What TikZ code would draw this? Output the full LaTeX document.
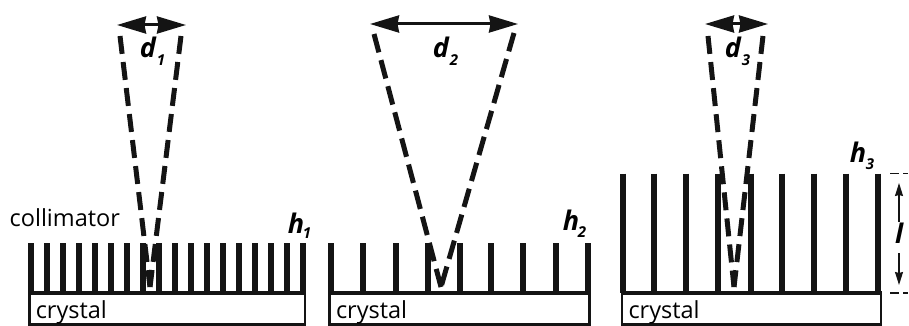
\documentclass[tikz,border=0pt]{standalone}
\usepackage{fontspec}
\setmainfont{Open Sans}
\usetikzlibrary{arrows.meta}
\tikzset{
  fin/.style={line width=6pt,line cap=butt,draw=black!92},
  base/.style={line width=4.5pt,draw=black!92},
  crystalbox/.style={draw=black!92,line width=2.5pt,anchor=north west,inner sep=0pt,outer sep=0pt,align=left,font=\fontsize{23.5}{23.5}\selectfont},
  cone/.style={line width=5pt,draw=black!92,dash pattern=on 18pt off 8.2pt},
  widecone/.style={cone,dash pattern=on 19pt off 8pt},
  dimarrow/.style={line width=3pt,draw=black!92,{Stealth[length=29pt,width=17pt,inset=1.5pt]}-{Stealth[length=29pt,width=17pt,inset=1.5pt]}},
  lenarrow/.style={line width=1.3pt,draw=black!92,-{Stealth[length=13pt,width=8pt,inset=1pt]}},
  tick/.style={line width=1.3pt,draw=black!92,dash pattern=on 9pt off 4pt},
  heading/.style={font=\fontsize{23.5}{23.5}\selectfont},
  symb/.style={font=\fontsize{27}{27}\selectfont\bfseries\itshape,inner sep=0pt},
  sub/.style={font=\fontsize{15}{15}\selectfont\bfseries\itshape,inner sep=0pt},
}
\newcommand{\crystaltext}{\hspace*{6.5pt}\raisebox{-9.5pt}[0pt][0pt]{crystal}}
\begin{document}
\begin{tikzpicture}[x=1pt,y=-1pt]
\useasboundingbox (0,0) rectangle (909,326);
% ---- panel 1
\foreach \i in {0,...,17} \draw[fin] ({30.7+16*\i},243) -- ({30.7+16*\i},293);
\node[crystalbox,minimum width=275.5pt,minimum height=31pt,text width=275.5pt] (c1) at (29.3,293.5) {\crystaltext};
\draw[base] (28,293) -- (305.5,293);
\coordinate (a1) at (150,287);
\coordinate (ls1) at (120,36);
\coordinate (rs1) at (181,36);
\coordinate (tl1) at (117,25);
\coordinate (tr1) at (186,25);
\draw[cone] (ls1) -- (a1);
\draw[cone] (rs1) -- (a1);
\draw[dimarrow] (tl1) -- (tr1);
\node[heading,anchor=west,inner sep=0pt] (coll) at (9.5,218) {collimator};
\node[symb] (dd1) at (148,47) {d};
\node[sub] (ds1) at (161,60) {1};
\node[symb] (hh1) at (296,223) {h};
\node[sub] (hs1) at (307,233) {1};
% ---- panel 2
\foreach \x in {331,363.3,395.7,427.7,460,491,523.3,555.7,587.7} \draw[fin] (\x,243) -- (\x,293);
\node[crystalbox,minimum width=260pt,minimum height=31pt,text width=260pt] (c2) at (329.5,293.5) {\crystaltext};
\draw[base] (328.5,293) -- (590.5,293);
\coordinate (a2) at (441,287);
\coordinate (ls2) at (374,34);
\coordinate (rs2) at (514,33);
\coordinate (tl2) at (370,24);
\coordinate (tr2) at (518,24);
\draw[widecone] (ls2) -- (a2);
\draw[widecone] (rs2) -- (a2);
\draw[dimarrow] (tl2) -- (tr2);
\node[symb] (dd2) at (441,47) {d};
\node[sub] (ds2) at (454,60) {2};
\node[symb] (hh2) at (571,220) {h};
\node[sub] (hs2) at (582,232) {2};
% ---- panel 3
\foreach \x in {623.3,654,686.3,718.3,750.7,781.7,813.7,846,878.3} \draw[fin] (\x,173.5) -- (\x,293);
\node[crystalbox,minimum width=259pt,minimum height=31pt,text width=259pt] (c3) at (622,293.5) {\crystaltext};
\draw[base] (621,293) -- (881.5,293);
\coordinate (a3) at (734,287);
\coordinate (ls3) at (708,36);
\coordinate (rs3) at (763,36);
\coordinate (tl3) at (705,24);
\coordinate (tr3) at (768,24);
\draw[cone] (ls3) -- (a3);
\draw[cone] (rs3) -- (a3);
\draw[dimarrow] (tl3) -- (tr3);
\node[symb] (dd3) at (733,47) {d};
\node[sub] (ds3) at (746,60) {3};
\node[symb] (hh3) at (858,152) {h};
\node[sub] (hs3) at (870,164) {3};
% ---- length l
\coordinate (t1) at (890,173.5);
\coordinate (t2) at (908,173.5);
\coordinate (b1) at (890,293);
\coordinate (b2) at (908,293);
\draw[tick] (t1) -- (t2);
\draw[tick] (b1) -- (b2);
\node[symb] (ll) at (899,233) {l};
\coordinate (la) at (899,222);
\coordinate (lb) at (899,183);
\coordinate (lc) at (899,253);
\coordinate (ld) at (899,285);
\draw[lenarrow] (la) -- (lb);
\draw[lenarrow] (lc) -- (ld);
\end{tikzpicture}
\end{document}
